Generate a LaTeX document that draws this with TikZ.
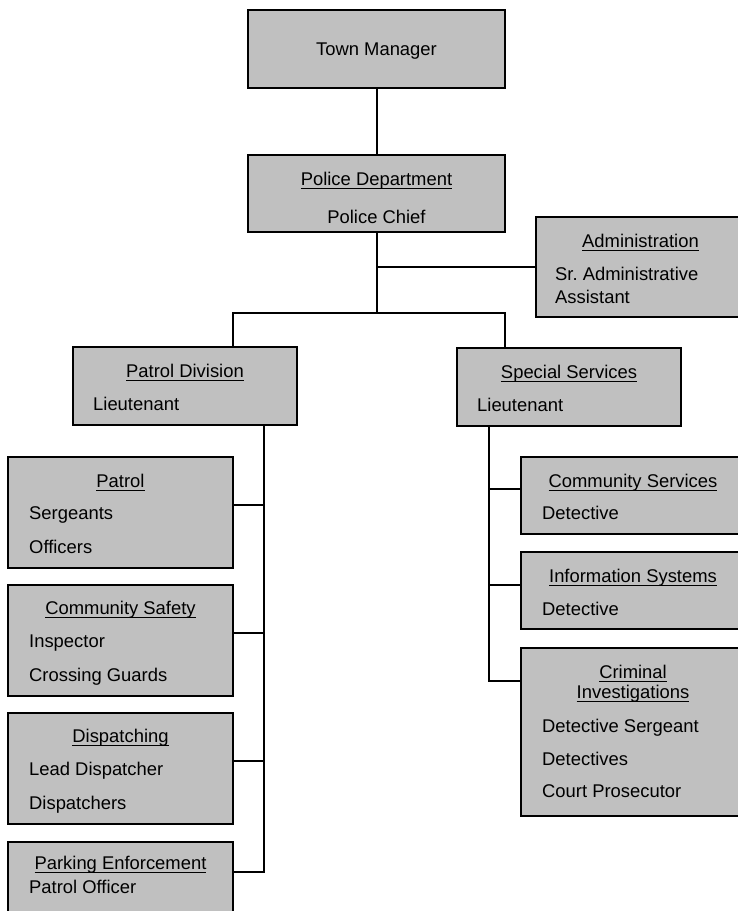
\documentclass[tikz,border=0pt]{standalone}
\usepackage{fontspec}
\setmainfont{Liberation Sans}
\usepackage{tikz}
\definecolor{boxgray}{RGB}{192,192,192}
\newcommand{\undl}[1]{\setbox0=\hbox{#1}\rlap{\copy0}\rule[-3.9pt]{\wd0}{1.1pt}}

\begin{document}
\begin{tikzpicture}[x=1pt, y=-1pt,
    box/.style={draw=black, fill=boxgray, line width=2.1pt, anchor=north west, outer sep=0pt, inner sep=0pt},
    ttl/.style={anchor=base, inner sep=0pt, font=\fontsize{18.4}{22}\selectfont},
    staff/.style={anchor=base west, inner sep=0pt, font=\fontsize{18.4}{22}\selectfont},
    link/.style={line width=2pt}]
  \useasboundingbox (0,0) rectangle (737,911);

  \node[box, minimum width=257pt, minimum height=78pt] (tm) at (248,10) {};
  \node[box, minimum width=257pt, minimum height=77pt] (pd) at (248,155) {};
  \node[box, minimum width=209pt, minimum height=100pt] (adm) at (536,217) {};
  \node[box, minimum width=224pt, minimum height=78pt] (pdiv) at (73,347) {};
  \node[box, minimum width=224pt, minimum height=78pt] (ss) at (457,348) {};
  \node[box, minimum width=225pt, minimum height=111pt] (pat) at (8,457) {};
  \node[box, minimum width=225pt, minimum height=111pt] (cs) at (8,585) {};
  \node[box, minimum width=225pt, minimum height=111pt] (dis) at (8,713) {};
  \node[box, minimum width=225pt, minimum height=80pt] (pe) at (8,842) {};
  \node[box, minimum width=224pt, minimum height=77pt] (csv) at (521,457) {};
  \node[box, minimum width=224pt, minimum height=77pt] (infosys) at (521,552) {};
  \node[box, minimum width=224pt, minimum height=168pt] (ci) at (521,648) {};

  \draw[link] (tm) -- (pd);
  \coordinate (hub) at ([yshift=-81pt]pd.south);
  \draw[link] (pd.south) -- (hub);
  \draw[link] (pd.south |- adm.west) -- (adm.west);
  \coordinate (pdivin) at (pdiv.north -| pat.east);
  \coordinate (ssin) at (ss.north -| pd.east);
  \draw[link] (pdivin) |- (hub) -| (ssin);

  \coordinate (lspine) at ([xshift=-33pt]pdiv.south east);
  \draw[link] (lspine) |- ([yshift=-30pt]pe.north east);
  \foreach \b in {pat,cs,dis} {
    \draw[link] ([yshift=-48pt]\b.north east) -| (lspine);
  }
  \coordinate (rspine) at ([xshift=32pt]ss.south west);
  \draw[link] (rspine) |- ([yshift=-33pt]ci.north west);
  \draw[link] ([yshift=-32pt]csv.north west) -| (rspine);
  \draw[link] ([yshift=-33pt]infosys.north west) -| (rspine);

  \node[ttl] (tm-t) at ([yshift=-45pt]tm.north) {Town Manager};
  \node[ttl] (pd-t) at ([yshift=-30pt]pd.north) {\undl{Police Department}};
  \node[ttl] (pd-s) at ([yshift=-68pt]pd.north) {Police Chief};
  \node[ttl] (adm-t) at ([yshift=-30pt]adm.north) {\undl{Administration}};
  \node[staff] (adm-s1) at ([xshift=19pt,yshift=-63pt]adm.north west) {Sr.\ Administrative};
  \node[staff] (adm-s2) at ([xshift=19pt,yshift=-86pt]adm.north west) {Assistant};
  \node[ttl] (pdiv-t) at ([yshift=-30pt]pdiv.north) {\undl{Patrol Division}};
  \node[staff] (pdiv-s) at ([xshift=20pt,yshift=-63pt]pdiv.north west) {Lieutenant};
  \node[ttl] (ss-t) at ([yshift=-30pt]ss.north) {\undl{Special Services}};
  \node[staff] (ss-s) at ([xshift=20pt,yshift=-63pt]ss.north west) {Lieutenant};

  \node[ttl] (pat-t) at ([yshift=-30pt]pat.north) {\undl{Patrol}};
  \node[staff] (pat-s1) at ([xshift=21pt,yshift=-62pt]pat.north west) {Sergeants};
  \node[staff] (pat-s2) at ([xshift=21pt,yshift=-96pt]pat.north west) {Officers};
  \node[ttl] (cs-t) at ([yshift=-29pt]cs.north) {\undl{Community Safety}};
  \node[staff] (cs-s1) at ([xshift=21pt,yshift=-62pt]cs.north west) {Inspector};
  \node[staff] (cs-s2) at ([xshift=21pt,yshift=-96pt]cs.north west) {Crossing Guards};
  \node[ttl] (dis-t) at ([yshift=-29pt]dis.north) {\undl{Dispatching}};
  \node[staff] (dis-s1) at ([xshift=21pt,yshift=-62pt]dis.north west) {Lead Dispatcher};
  \node[staff] (dis-s2) at ([xshift=21pt,yshift=-96pt]dis.north west) {Dispatchers};
  \node[ttl] (pe-t) at ([yshift=-27pt]pe.north) {\undl{Parking Enforcement}};
  \node[staff] (pe-s) at ([xshift=21pt,yshift=-51pt]pe.north west) {Patrol Officer};

  \node[ttl] (csv-t) at ([yshift=-30pt]csv.north) {\undl{Community Services}};
  \node[staff] (csv-s) at ([xshift=21pt,yshift=-62pt]csv.north west) {Detective};
  \node[ttl] (infosys-t) at ([yshift=-30pt]infosys.north) {\undl{Information Systems}};
  \node[staff] (infosys-s) at ([xshift=21pt,yshift=-63pt]infosys.north west) {Detective};
  \node[ttl] (ci-t1) at ([yshift=-30pt]ci.north) {\undl{Criminal}};
  \node[ttl] (ci-t2) at ([yshift=-50pt]ci.north) {\undl{Investigations}};
  \node[staff] (ci-s1) at ([xshift=21pt,yshift=-84pt]ci.north west) {Detective Sergeant};
  \node[staff] (ci-s2) at ([xshift=21pt,yshift=-117pt]ci.north west) {Detectives};
  \node[staff] (ci-s3) at ([xshift=21pt,yshift=-149pt]ci.north west) {Court Prosecutor};
\end{tikzpicture}
\end{document}
